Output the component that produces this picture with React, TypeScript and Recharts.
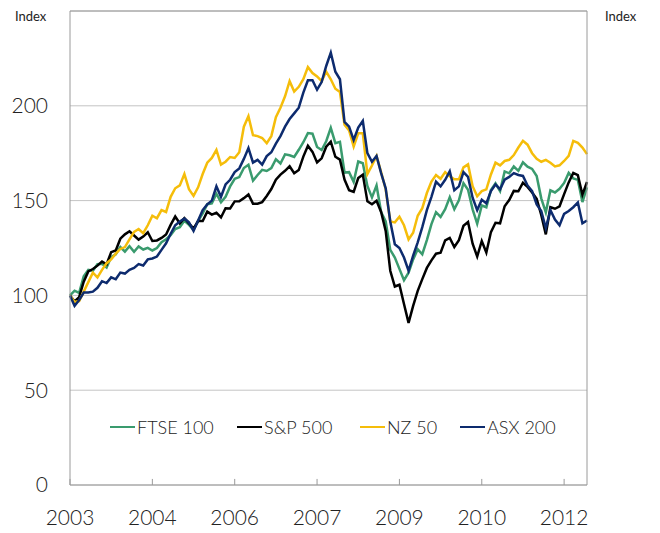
import React from "react";
import {
  LineChart,
  Line,
  XAxis,
  YAxis,
  CartesianGrid,
  ReferenceLine,
} from "recharts";

// monthly, Jan 2003 to Jun 2012, index Jan 2003 = 100
const months: string[] = Array.from(
  { length: 114 },
  (_, i) => `${2003 + Math.floor(i / 12)}-${String((i % 12) + 1).padStart(2, "0")}`
);

const ftse100 = [
  100, 102.5, 101.3, 110.1, 113.5, 113.0, 116.5, 116.7, 114.7, 120.2, 121.7, 125.5,
  123.1, 125.9, 123.0, 125.8, 124.2, 125.1, 123.7, 125.0, 128.1, 129.6, 131.8, 135.0,
  136.0, 139.3, 137.2, 134.6, 139.2, 143.3, 148.1, 148.5, 153.6, 149.1, 152.0, 157.5,
  161.5, 162.4, 167.2, 168.9, 160.5, 163.5, 166.2, 165.6, 167.1, 171.8, 169.6, 174.4,
  173.9, 173.0, 176.8, 180.8, 185.6, 185.3, 178.3, 176.7, 181.3, 188.4, 180.3, 181.0,
  164.8, 165.0, 159.9, 170.6, 169.7, 157.7, 151.7, 158.0, 144.0, 139.0, 124.0, 120.0,
  114.0, 108.0, 112.0, 119.0, 124.3, 121.7, 129.2, 137.6, 143.9, 141.4, 145.5, 151.8,
  145.5, 150.1, 159.2, 155.7, 145.4, 137.8, 147.4, 146.5, 155.6, 159.1, 155.0, 165.4,
  164.4, 168.0, 165.7, 170.2, 167.9, 166.7, 163.0, 151.2, 143.8, 155.4, 154.3, 156.2,
  159.3, 164.6, 161.7, 160.9, 149.2, 157.0,
];

const sp500 = [
  100, 96.8, 99.1, 107.2, 112.6, 113.9, 115.7, 117.8, 116.4, 122.8, 123.7, 129.9,
  132.2, 133.8, 131.6, 129.4, 131.0, 133.3, 128.7, 129.0, 130.3, 132.1, 137.2, 141.6,
  138.0, 140.7, 138.0, 135.2, 139.2, 139.2, 144.2, 142.6, 143.6, 141.1, 146.0, 145.9,
  149.6, 149.7, 151.3, 153.2, 148.4, 148.4, 149.2, 152.4, 156.1, 161.0, 163.7, 165.7,
  168.1, 164.4, 166.1, 173.2, 178.9, 175.7, 170.1, 172.3, 178.4, 181.1, 173.1, 171.6,
  161.1, 155.5, 154.6, 161.9, 163.7, 149.6, 148.1, 149.9, 144.0, 134.0, 113.0, 104.7,
  105.6, 95.5, 85.5, 94.5, 102.4, 108.6, 114.5, 118.5, 122.0, 122.5, 129.0, 130.3,
  125.5, 129.1, 136.7, 138.7, 127.3, 120.5, 128.7, 122.6, 133.4, 138.3, 138.0, 147.0,
  150.3, 155.1, 154.9, 159.4, 157.2, 154.3, 151.0, 142.4, 132.2, 146.5, 145.7, 147.0,
  153.4, 159.6, 164.6, 163.4, 153.1, 159.8,
];

const nz50 = [
  100, 96.5, 97, 102, 107, 112, 109.5, 113.5, 117, 119, 122, 124.5,
  125.5, 129.5, 133.5, 135, 132.8, 137, 142, 140.7, 145, 144, 152, 156.5,
  158, 164, 156, 152.5, 157, 164, 170, 172.5, 176.8, 169, 170.5, 173,
  172.5, 175.5, 189, 194.5, 184.5, 184, 183, 180.3, 184, 194, 199, 205,
  213, 207.5, 210, 214, 220.4, 217.3, 215.5, 213, 218, 214, 209, 207.3,
  190, 187, 178.5, 185.5, 185.5, 164, 168.5, 173.5, 165, 156, 139, 138.5,
  141.5, 137, 129.5, 133, 142, 146, 154, 160, 163.5, 161.5, 165, 162.8,
  161.2, 161.2, 167.5, 169.1, 157.6, 152.3, 155, 155.9, 163.8, 170, 168.6, 170.9,
  171.5, 174, 178, 181.5, 179.5, 175, 172, 170.5, 171.5, 170, 168, 168.6,
  170.9, 173.6, 181.5, 180.5, 178, 174.5,
];

const asx200 = [
  100, 94.5, 97.5, 101.5, 101.5, 102, 104, 107.5, 106.5, 109.5, 108.5, 112,
  111.5, 113.5, 114.5, 116.5, 115.8, 119, 119.5, 120.5, 124, 127.5, 132.5, 137,
  139, 140.5, 138.5, 134, 139.5, 145, 148, 150, 157.5, 152, 158.5, 161,
  165, 167, 172, 177.7, 170, 171.5, 169, 173.5, 175.5, 180, 184, 189,
  193, 196, 199, 207, 213.5, 213.5, 208.5, 212.5, 221, 228, 218, 214,
  191.5, 189, 182, 188.5, 192, 175, 170.5, 173.5, 164.5, 156.5, 139, 127,
  125, 120, 113, 121, 128, 136, 145, 152, 160, 157.5, 161, 165.5,
  155.5, 157.5, 165, 162.5, 151.5, 145, 150.5, 148.5, 155, 158.5, 156, 161,
  162.5, 164.5, 163.5, 163, 158, 155, 148, 144.5, 135.5, 145, 140, 137,
  143, 144.5, 146.5, 149, 138, 139.5,
];

const xTicks = ["2003-01", "2004-07", "2006-01", "2007-07", "2009-01", "2010-07", "2012-01"];
const yTicks = [0, 50, 100, 150, 200];

const series = [
  { key: "ftse", name: "FTSE 100", color: "#3a9b6e" },
  { key: "sp", name: "S&P 500", color: "#000000" },
  { key: "nz", name: "NZ 50", color: "#f5bd0a" },
  { key: "asx", name: "ASX 200", color: "#0d2b6e" },
];

const data = months.map((date, i) => ({
  date,
  ftse: ftse100[i],
  sp: sp500[i],
  nz: nz50[i],
  asx: asx200[i],
}));

const font = "Lato, 'DejaVu Sans', sans-serif";
const border = "#9a9a9a";
const tickStyle = { fontSize: 21, fill: "#222", fontFamily: font, fontWeight: 300 };

// legend item x positions, taken from the reference layout
const legendX = [110, 237, 360, 460];

export default function App() {
  return (
    <div style={{ position: "relative", width: 660, height: 533, background: "#fff" }}>
      <style>{"body{margin:0}"}</style>
      <LineChart
        width={660}
        height={533}
        data={data}
        margin={{ top: 11, right: 0, bottom: 0, left: 0 }}
      >
        <CartesianGrid yAxisId="left" vertical={false} stroke="#c4c4c4" />
        <XAxis
          dataKey="date"
          ticks={xTicks}
          interval={0}
          tickFormatter={(d: string) => d.slice(0, 4)}
          height={48}
          axisLine={{ stroke: border }}
          tickLine={false}
          tickSize={0}
          tickMargin={25}
          tick={tickStyle}
        />
        <YAxis
          yAxisId="left"
          domain={[0, 250]}
          ticks={yTicks}
          width={70}
          axisLine={{ stroke: border }}
          tickLine={false}
          tickSize={0}
          tickMargin={22}
          tick={tickStyle}
        />
        <YAxis
          yAxisId="right"
          orientation="right"
          domain={[0, 250]}
          ticks={yTicks}
          width={73}
          axisLine={{ stroke: border }}
          tickLine={false}
          tickSize={0}
          tickMargin={21}
          tick={tickStyle}
        />
        <ReferenceLine yAxisId="left" y={250} stroke={border} />
        {xTicks.map((d) => (
          <ReferenceLine
            key={d}
            yAxisId="left"
            segment={[
              { x: d, y: 0 },
              { x: d, y: 3.2 },
            ]}
            stroke={border}
          />
        ))}
        {series.map((s) => (
          <Line
            key={s.key}
            yAxisId="left"
            dataKey={s.key}
            name={s.name}
            stroke={s.color}
            strokeWidth={2.5}
            dot={false}
            type="linear"
            isAnimationActive={false}
          />
        ))}
      </LineChart>
      <div style={{ position: "absolute", left: 15, top: 8, fontSize: 13, fontFamily: font, color: "#222" }}>
        Index
      </div>
      <div style={{ position: "absolute", left: 605, top: 8, fontSize: 13, fontFamily: font, color: "#222" }}>
        Index
      </div>
      {series.map((s, i) => (
        <div
          key={s.key}
          style={{
            position: "absolute",
            left: legendX[i],
            top: 416,
            display: "flex",
            alignItems: "center",
            fontFamily: font,
            fontSize: 18,
            fontWeight: 300,
            color: "#222",
            whiteSpace: "nowrap",
          }}
        >
          <span style={{ display: "inline-block", width: 25, height: 2, background: s.color, marginRight: 2 }} />
          {s.name}
        </div>
      ))}
    </div>
  );
}
